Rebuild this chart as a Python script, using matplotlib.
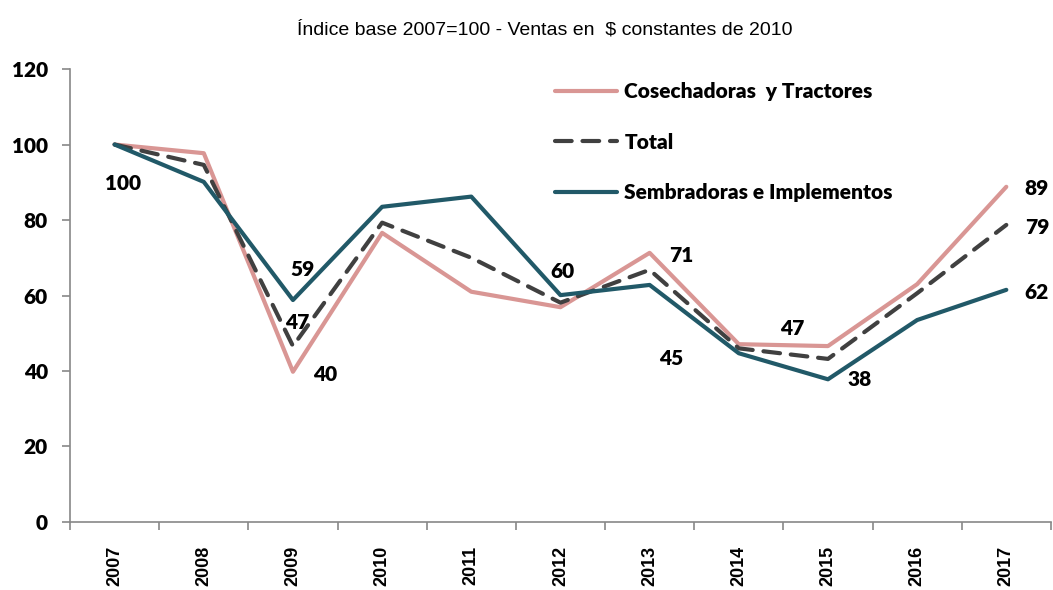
import matplotlib
matplotlib.use("Agg")
import matplotlib.pyplot as plt

# Data
years = ["2007", "2008", "2009", "2010", "2011", "2012", "2013", "2014", "2015", "2016", "2017"]
cosechadoras = [100, 97.7, 39.8, 76.6, 61.0, 56.9, 71.3, 47.1, 46.6, 63.0, 88.8]
total = [100, 94.6, 46.6, 79.3, 70.0, 58.1, 66.8, 46.0, 43.2, 60.6, 78.7]
sembradoras = [100, 90.1, 58.8, 83.5, 86.2, 60.1, 62.8, 44.7, 37.8, 53.5, 61.5]

series_names = ["Cosechadoras  y Tractores", "Total", "Sembradoras e Implementos"]
colors = ["#D99694", "#404040", "#215968"]

# (series, year index, text, offset in points)
labels = [
    (sembradoras, 0, "100", (6, -28)),
    (sembradoras, 2, "59", (7, 22)),
    (total, 2, "47", (3, 17)),
    (cosechadoras, 2, "40", (23, -2)),
    (sembradoras, 5, "60", (1.5, 17)),
    (cosechadoras, 6, "71", (23, -2)),
    (sembradoras, 7, "45", (-49, -4)),
    (cosechadoras, 8, "47", (-26, 13)),
    (sembradoras, 8, "38", (23, 0)),
    (cosechadoras, 10, "89", (22, -1)),
    (total, 10, "79", (22, -2)),
    (sembradoras, 10, "62", (22, -2)),
]

LABEL_FONT = "Lato"

fig = plt.figure(figsize=(10.53, 5.90), dpi=100)
ax = fig.add_axes([0.0665, 0.1153, 0.9315, 0.7677])

x = range(len(years))
ax.plot(x, cosechadoras, color=colors[0], lw=3, label=series_names[0], solid_capstyle="round", zorder=2)
ax.plot(x, total, color=colors[1], lw=3, dashes=(4, 2.6), label=series_names[1], dash_capstyle="round", zorder=3)
ax.plot(x, sembradoras, color=colors[2], lw=3, label=series_names[2], solid_capstyle="round", zorder=4)

for ser, i, txt, off in labels:
    ax.annotate(txt, (i, ser[i]), xytext=off, textcoords="offset points",
                ha="center", va="center", fontsize=15, fontweight="heavy",
                family=LABEL_FONT, color="black", zorder=5)

ax.set_xlim(-0.5, len(years) - 0.5)
ax.set_ylim(0, 120)
ax.set_yticks(range(0, 121, 20))
ax.set_yticklabels([str(v) for v in range(0, 121, 20)], fontsize=15, fontweight="heavy",
                   family=LABEL_FONT)
ax.tick_params(axis="y", length=6, width=1.2, color="#888888", pad=10)

ax.set_xticks(list(x))
ax.set_xticklabels(years, rotation=90, fontsize=13, fontweight="bold", family="Liberation Sans")
ax.set_xticks([i - 0.5 for i in range(len(years) + 1)], minor=True)
ax.tick_params(axis="x", which="major", length=0, pad=17)
ax.tick_params(axis="x", which="minor", length=6, width=1.2, color="#888888")

for s in ["top", "right"]:
    ax.spines[s].set_visible(False)
for s in ["left", "bottom"]:
    ax.spines[s].set_color("#888888")
    ax.spines[s].set_linewidth(1.2)

leg = ax.legend(loc="upper left", bbox_to_anchor=(0.475, 1.012), frameon=False,
                handlelength=3.0, handletextpad=0.35, labelspacing=1.5,
                prop={"family": LABEL_FONT, "weight": "heavy", "size": 15})

fig.text(0.5176, 1 - 34.3 / 590, "Índice base 2007=100 - Ventas en  $ constantes de 2010",
         ha="center", va="baseline", fontsize=14, family="Liberation Sans")

fig.savefig("out.png", dpi=100)
